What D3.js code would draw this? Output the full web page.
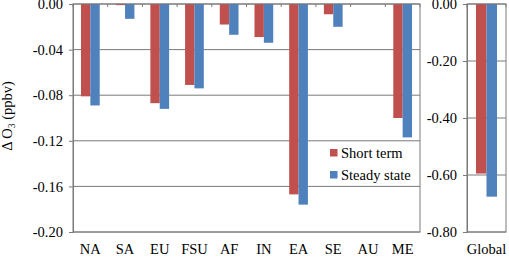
<!DOCTYPE html>
<html>
<head>
<meta charset="utf-8">
<script src="https://cdn.jsdelivr.net/npm/d3@7"></script>
<style>
  body { margin: 0; background: #fff; }
  text { font-family: "Liberation Serif", "Times New Roman", serif; font-size: 14.5px; fill: #000; }
</style>
</head>
<body>
<script>
// regional bars
var regions = ["NA", "SA", "EU", "FSU", "AF", "IN", "EA", "SE", "AU", "ME"]
var shortTerm = [-0.081, -0.001, -0.087, -0.071, -0.018, -0.029, -0.167, -0.009, 0, -0.100]
var steadyState = [-0.089, -0.013, -0.092, -0.074, -0.027, -0.034, -0.176, -0.020, 0, -0.117]
var leftTicks = [0, -0.04, -0.08, -0.12, -0.16, -0.20]

// global panel
var globalCat = ["Global"]
var globalShort = [-0.595]
var globalSteady = [-0.676]
var rightTicks = [0, -0.2, -0.4, -0.6, -0.8]

var seriesNames = ["Short term", "Steady state"]
var colors = ["#C0504D", "#4F81BD"]

var W = 509, H = 258
var yTop = 4, yBot = 232   // note: "top" is taken by window.top
var gridColor = "#7a7a7a"
var fmt = d => d.toFixed(2)   // plain hyphen, like the original

var svg = d3.select("body").append("svg")
    .attr("width", W)
    .attr("height", H)

function panel(x0, x1, cats, s1, s2, ticks, yMin, inner) {
    var g = svg.append("g")
    var x = d3.scaleBand().domain(cats).range([x0, x1])
    var y = d3.scaleLinear().domain([yMin, 0]).range([yBot, yTop])

    // gridlines
    g.selectAll("line.grid")
        .data(ticks)
        .enter().append("line")
        .attr("x1", x0).attr("x2", x1)
        .attr("y1", d => y(d)).attr("y2", d => y(d))
        .attr("stroke", gridColor)
        .attr("stroke-width", 1)

    var bw = x.bandwidth() * inner
    ;[s1, s2].forEach((s, k) => {
        g.selectAll(null)
            .data(cats)
            .enter().append("rect")
            .attr("x", (d, i) => x(d) + x.bandwidth() / 2 - bw + k * bw)
            .attr("y", y(0))
            .attr("width", bw)
            .attr("height", (d, i) => y(s[i]) - y(0))
            .attr("fill", colors[k])
    })

    // frame
    g.append("rect")
        .attr("x", x0).attr("y", yTop)
        .attr("width", x1 - x0).attr("height", yBot - yTop)
        .attr("fill", "none")
        .attr("stroke", gridColor)

    // value axis
    var ax = g.append("g")
        .attr("transform", "translate(" + x0 + ",0)")
        .call(d3.axisLeft(y).tickValues(ticks).tickFormat(fmt).tickSize(4).tickPadding(6))
    ax.select(".domain").attr("stroke", gridColor)
    ax.selectAll(".tick line").attr("stroke", gridColor)
    ax.selectAll("text").attr("font-size", null).attr("font-family", null).attr("fill", "#000")

    // category ticks along the zero line
    g.selectAll(null)
        .data(d3.range(cats.length + 1))
        .enter().append("line")
        .attr("x1", i => x0 + i * x.step()).attr("x2", i => x0 + i * x.step())
        .attr("y1", yTop).attr("y2", yTop + 3)
        .attr("stroke", gridColor)

    // category labels at the bottom
    g.selectAll(null)
        .data(cats)
        .enter().append("text")
        .attr("x", d => x(d) + x.bandwidth() / 2)
        .attr("y", 254)
        .attr("text-anchor", "middle")
        .text(d => d)
}

panel(73, 420, regions, shortTerm, steadyState, leftTicks, -0.20, 0.27)
panel(467, 506, globalCat, globalShort, globalSteady, rightTicks, -0.80, 0.27)

// legend
var leg = svg.append("g")
leg.append("rect")
    .attr("x", 324).attr("y", 142)
    .attr("width", 95).attr("height", 43)
    .attr("fill", "#fff")
seriesNames.forEach((n, i) => {
    leg.append("rect")
        .attr("x", 330).attr("y", 149 + i * 22)
        .attr("width", 7.5).attr("height", 7.5)
        .attr("fill", colors[i])
    leg.append("text")
        .attr("x", 341).attr("y", 157.5 + i * 22)
        .text(n)
})

// y label
var yl = svg.append("text")
    .attr("transform", "translate(12,116) rotate(-90)")
    .attr("text-anchor", "middle")
yl.append("tspan").text("\u0394 O")
yl.append("tspan").attr("font-size", "9.5px").attr("dy", 3).text("3")
yl.append("tspan").attr("dy", -3).text(" (ppbv)")
</script>
</body>
</html>
